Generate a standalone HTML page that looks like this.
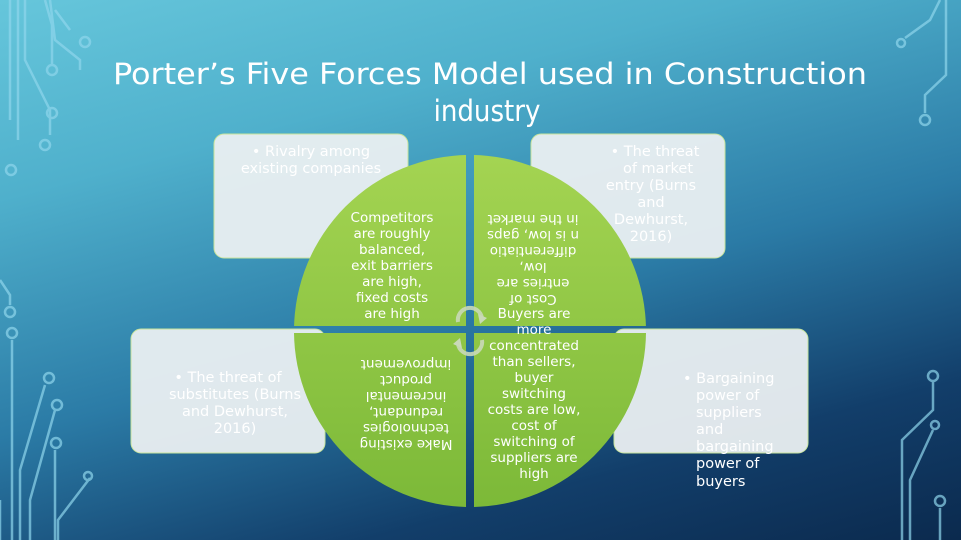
<!DOCTYPE html>
<html><head><meta charset="utf-8"><style>
html,body{margin:0;padding:0;width:961px;height:540px;overflow:hidden}
body{background:linear-gradient(165deg,#66c6db 0%,#4fb0cc 25%,#2b7ba6 55%,#123e6a 80%,#0b2a4e 100%);font-family:"DejaVu Sans","Liberation Sans",sans-serif}
svg{position:absolute;left:0;top:0}
</style></head><body>
<svg width="961" height="540" viewBox="0 0 961 540" xmlns="http://www.w3.org/2000/svg">
<defs>
<linearGradient id="g" x1="0" y1="0" x2="0" y2="1">
<stop offset="0" stop-color="#a4d452"/><stop offset="1" stop-color="#7cb938"/></linearGradient>
<clipPath id="tl"><rect x="290" y="150" width="176" height="176"/></clipPath>
<clipPath id="tr"><rect x="474" y="150" width="180" height="176"/></clipPath>
<clipPath id="bl"><rect x="290" y="333" width="176" height="180"/></clipPath>
<clipPath id="br"><rect x="474" y="333" width="180" height="180"/></clipPath>
</defs>
<g fill="none" stroke="#8fd6ec" stroke-width="2.5" opacity="0.7">
<path d="M10 0 V120 M18 0 V140 M25 0 V60 L50 110 V135 M45 0 L52 25 V65 M50 0 L55 40 L80 60 V70 M55 10 L70 30"/>
<circle cx="52" cy="70" r="5"/><circle cx="52" cy="113" r="5"/><circle cx="45" cy="145" r="5"/><circle cx="11" cy="170" r="5"/><circle cx="85" cy="42" r="5"/>
<path d="M0 280 L10 295 V305 M12 340 V540 M45 385 L20 470 V540 M55 410 L30 500 V540 M55 450 V540 M90 478 L58 520 V540 M0 500 V540"/>
<circle cx="10" cy="312" r="5"/><circle cx="12" cy="333" r="5"/><circle cx="49" cy="378" r="5"/><circle cx="57" cy="405" r="5"/><circle cx="56" cy="443" r="5"/><circle cx="88" cy="476" r="4"/>
<path d="M940 0 L930 20 L905 38 M946 0 V75 L925 95 V113"/>
<circle cx="901" cy="43" r="4"/><circle cx="925" cy="120" r="5"/>
<path d="M933 382 V410 L902 440 V540 M933 430 L910 480 V540 M940 508 V540"/>
<circle cx="933" cy="376" r="5"/><circle cx="935" cy="425" r="4"/><circle cx="940" cy="501" r="5"/>
</g>
<text x="490" y="84" text-anchor="middle" font-family="DejaVu Sans Condensed,DejaVu Sans,sans-serif" font-size="29" fill="#fff" textLength="754" lengthAdjust="spacingAndGlyphs">Porter’s Five Forces Model used in Construction</text>
<text x="487" y="121" text-anchor="middle" font-family="DejaVu Sans Condensed,DejaVu Sans,sans-serif" font-size="29" fill="#fff">industry</text>
<g fill="#eaeff1" fill-opacity="0.95" stroke="#c6e39c" stroke-width="1">
<rect x="214" y="134" width="194" height="124" rx="10"/>
<rect x="531" y="134" width="194" height="124" rx="10"/>
<rect x="131" y="329" width="194" height="124" rx="10"/>
<rect x="614" y="329" width="194" height="124" rx="10"/>
</g>
<g font-size="14.5" fill="#fff" text-anchor="middle">
<text x="311" y="156">• Rivalry among</text>
<text x="311" y="173">existing companies</text>
<text x="655" y="156">• The threat</text>
<text x="658" y="173">of market</text>
<text x="651" y="190">entry (Burns</text>
<text x="651" y="207">and</text>
<text x="651" y="224">Dewhurst,</text>
<text x="651" y="241">2016)</text>
<text x="228" y="382">• The threat of</text>
<text x="235" y="399">substitutes (Burns</text>
<text x="235" y="416">and Dewhurst,</text>
<text x="235" y="433">2016)</text>
<g text-anchor="start"><text x="683" y="383">• Bargaining</text>
<text x="696" y="400">power of</text>
<text x="696" y="417">suppliers</text>
<text x="696" y="434">and</text>
<text x="696" y="451">bargaining</text>
<text x="696" y="468">power of</text>
<text x="696" y="486">buyers</text></g>
</g>
<g fill="url(#g)">
<circle cx="470" cy="331" r="176" clip-path="url(#tl)"/>
<circle cx="470" cy="331" r="176" clip-path="url(#tr)"/>
<circle cx="470" cy="331" r="176" clip-path="url(#bl)"/>
<circle cx="470" cy="331" r="176" clip-path="url(#br)"/>
</g>
<g font-size="13.5" fill="#fff" text-anchor="middle">
<text x="392" y="222">Competitors</text>
<text x="392" y="238">are roughly</text>
<text x="392" y="254">balanced,</text>
<text x="392" y="270">exit barriers</text>
<text x="392" y="286">are high,</text>
<text x="392" y="302">fixed costs</text>
<text x="392" y="318">are high</text>
<g transform="rotate(180 533 260)">
<text x="533" y="225">Cost of</text>
<text x="533" y="241">entries are</text>
<text x="533" y="257">low,</text>
<text x="533" y="273">differentiatio</text>
<text x="533" y="289">n is low, gaps</text>
<text x="533" y="305">in the market</text>
</g>
<g transform="rotate(180 406 397)">
<text x="406" y="354">Make existing</text>
<text x="406" y="370">technologies</text>
<text x="406" y="386">redundant,</text>
<text x="406" y="402">incremental</text>
<text x="406" y="418">product</text>
<text x="406" y="434">improvement</text>
</g>
<text x="534" y="318">Buyers are</text>
<text x="534" y="334">more</text>
<text x="534" y="350">concentrated</text>
<text x="534" y="366">than sellers,</text>
<text x="534" y="382">buyer</text>
<text x="534" y="398">switching</text>
<text x="534" y="414">costs are low,</text>
<text x="534" y="430">cost of</text>
<text x="534" y="446">switching of</text>
<text x="534" y="462">suppliers are</text>
<text x="534" y="478">high</text>
</g>
<g fill="none" stroke="#c9d9b8" stroke-width="4" opacity="0.9">
<path d="M458 322 A12 12 0 0 1 482 318"/>
<path d="M482 340 A12 12 0 0 1 458 344"/>
</g>
<path d="M478 314 L487 318 L480 324 Z M462 348 L453 344 L460 338 Z" fill="#c9d9b8"/>
</svg>
</body></html>
